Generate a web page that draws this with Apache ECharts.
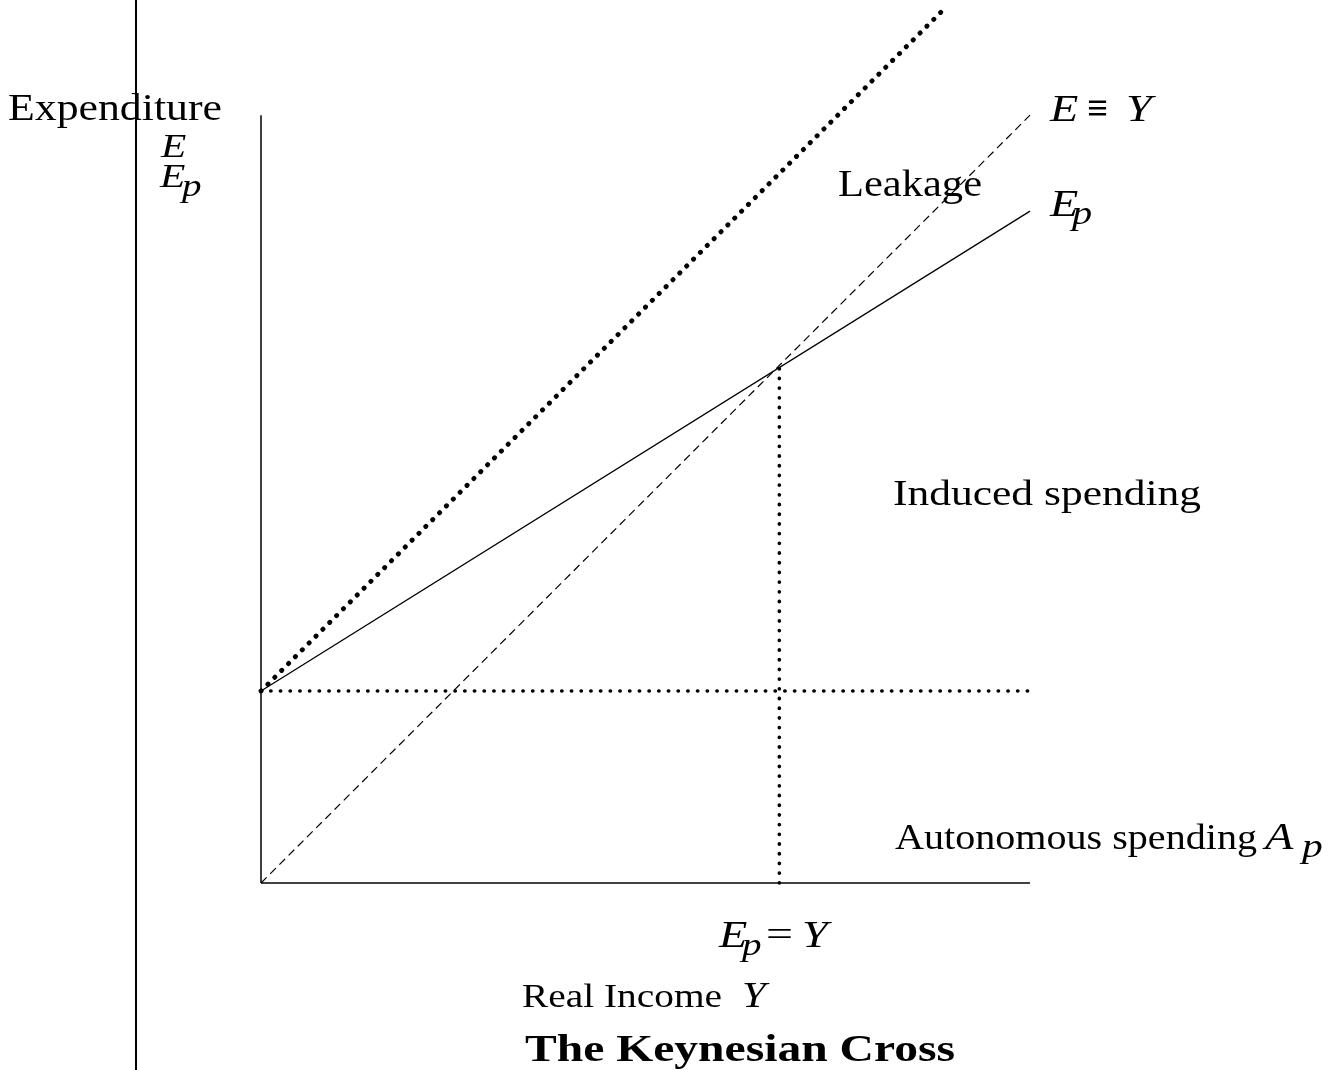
<!DOCTYPE html>
<html>
<head>
<meta charset="utf-8">
<script src="https://cdn.jsdelivr.net/npm/echarts@6/dist/echarts.min.js"></script>
<style>
html,body{margin:0;padding:0;background:#fff;}
#chart{width:1338px;height:1070px;}
</style>
</head>
<body>
<div id="chart"></div>
<script>
// ---- data (units: income / expenditure) ----
const identityLine = [[0, 0], [100, 100]];          // E ≡ Y (45° dashed)
const plannedSpending = [[0, 25], [100, 87.5]];     // Ep (solid)
const leakageLine = [[0, 25], [88.8, 113.8]];       // thick dotted 45° from autonomous level
const autonomousLevel = [[0, 25], [100.8, 25]];     // horizontal dotted
const equilibriumDrop = [[67.4, 0], [67.4, 67.1]];  // vertical dotted at Ep = Y
const xAxisLine = [[0, 0], [100, 0]];
const yAxisLine = [[0, 0], [0, 100]];

// ---- text annotations: [text, left, baseline, size, style, weight, width] ----
const labels = [
  ['Expenditure', 8, 121, 37, 'normal', 'normal', 214],
  ['E', 161, 158, 34, 'italic', 'normal', null],
  ['E', 160, 188, 34, 'italic', 'normal', null],
  ['p', 182, 197, 32, 'italic', 'normal', null],
  ['E', 1050, 122, 38, 'italic', 'normal', null],
  ['\u2261', 1087, 121, 36, 'normal', 'bold', 21],
  ['Y', 1126, 122, 38, 'italic', 'normal', null],
  ['Leakage', 838, 197, 37, 'normal', 'normal', 144],
  ['E', 1050, 217, 38, 'italic', 'normal', null],
  ['p', 1072, 225, 33, 'italic', 'normal', null],
  ['Induced spending', 893, 506, 35, 'normal', 'normal', 308],
  ['Autonomous spending', 895, 850, 35, 'normal', 'normal', 362],
  ['A', 1265, 850, 38, 'italic', 'normal', null],
  ['p', 1302, 858, 34, 'italic', 'normal', null],
  ['E', 719, 948, 38, 'italic', 'normal', null],
  ['p', 742, 956, 32, 'italic', 'normal', null],
  ['=', 766, 947, 36, 'normal', 'normal', 27],
  ['Y', 802, 948, 38, 'italic', 'normal', null],
  ['Real Income', 522, 1008, 33, 'normal', 'normal', 200],
  ['Y', 742, 1008, 35, 'italic', 'normal', null],
  ['The Keynesian Cross', 525, 1062, 37, 'normal', 'bold', 430]
];
const DEFAULT_SX = 1.22;
const FAMILY = '"Liberation Serif", "Times New Roman", serif';

const measureCtx = document.createElement('canvas').getContext('2d');
function fontOf(l) { return l[4] + ' ' + l[5] + ' ' + l[3] + 'px ' + FAMILY; }
function scaleOf(l) {
  if (!l[6]) return DEFAULT_SX;
  measureCtx.font = fontOf(l);
  return l[6] / measureCtx.measureText(l[0]).width;
}

const chart = echarts.init(document.getElementById('chart'), null, {renderer: 'canvas'});

const graphic = [{
  type: 'line', silent: true,
  shape: {x1: 136, y1: 0, x2: 136, y2: 1070},
  style: {stroke: '#000', lineWidth: 2}
}].concat(labels.map(function (l) {
  return {
    type: 'text', silent: true,
    x: l[1], y: l[2] - 0.28 * l[3], scaleX: scaleOf(l), scaleY: 1,
    style: {
      text: l[0], fill: '#000', font: fontOf(l),
      align: 'left', verticalAlign: 'middle'
    }
  };
}));

function lineSeries(data, style) {
  return {
    type: 'line', data: data, symbol: 'none', clip: false, silent: true,
    lineStyle: Object.assign({color: '#000'}, style), z: 2
  };
}

chart.setOption({
  animation: false,
  backgroundColor: '#fff',
  grid: {left: 261, top: 0, bottom: 187, right: 292.6, containLabel: false},
  xAxis: {type: 'value', min: 0, max: 102, show: false},
  yAxis: {type: 'value', min: 0, max: 115, show: false},
  series: [
    lineSeries(xAxisLine, {width: 1.5}),
    lineSeries(yAxisLine, {width: 1.5}),
    lineSeries(identityLine, {width: 1.2, type: [8, 5]}),
    lineSeries(plannedSpending, {width: 1.3}),
    lineSeries(leakageLine, {width: 4.8, type: [0.3, 9.4], cap: 'round'}),
    lineSeries(autonomousLevel, {width: 3.6, type: [0.3, 9.4], cap: 'round'}),
    lineSeries(equilibriumDrop, {width: 3.6, type: [0.3, 9.4], cap: 'round'})
  ],
  graphic: graphic
});
</script>
</body>
</html>
